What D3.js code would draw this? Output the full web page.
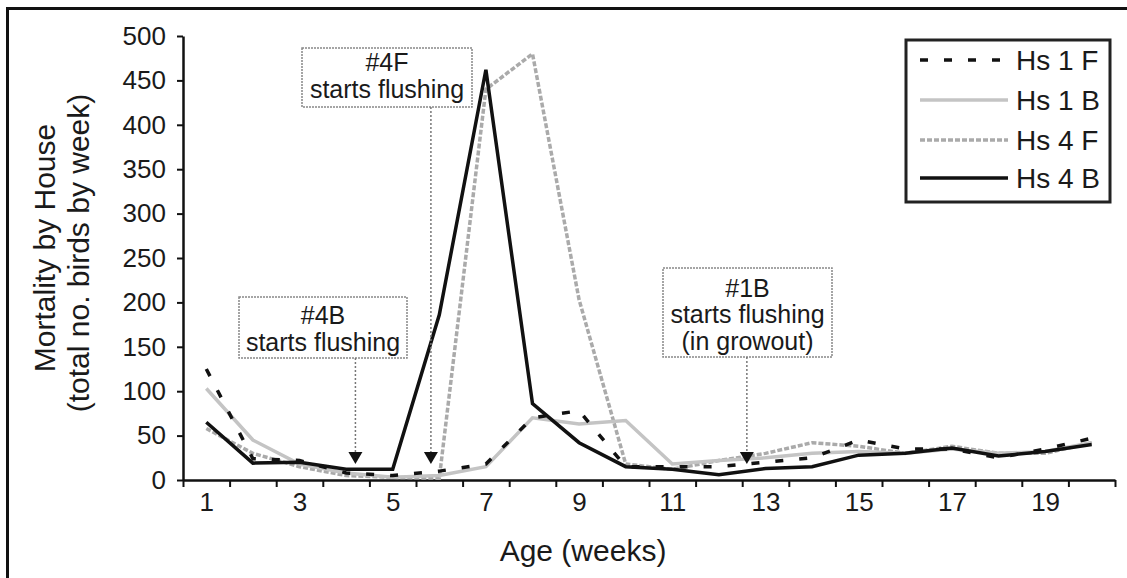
<!DOCTYPE html>
<meta charset="utf-8">
<script src="https://d3js.org/d3.v7.min.js"></script>
<style>
  body { margin: 0; background: #fff; }
  text { font-family: "Liberation Sans", Arial, sans-serif; fill: #1a1a1a; }
</style>
<div id="chart"></div>
<script>
// weeks of age (categories)
var weeks = [1, 2, 3, 4, 5, 6, 7, 8, 9, 10, 11, 12, 13, 14, 15, 16, 17, 18, 19, 20];
var weekLabels = [1, 3, 5, 7, 9, 11, 13, 15, 17, 19];
var yTicks = [0, 50, 100, 150, 200, 250, 300, 350, 400, 450, 500];

// mortality per week
var hs1F = [125, 24, 22, 8, 5, 10, 18, 70, 78, 15, 15, 15, 20, 25, 45, 35, 35, 25, 35, 47];
var hs1B = [103, 45, 18, 8, 3, 5, 15, 70, 63, 67, 18, 22, 25, 30, 32, 30, 35, 30, 32, 42];
var hs4F = [58, 30, 15, 5, 3, 2, 440, 480, 203, 18, 12, 22, 30, 42, 38, 30, 38, 30, 30, 42];
var hs4B = [65, 19, 20, 12, 12, 186, 462, 86, 42, 15, 12, 6, 13, 15, 28, 30, 36, 27, 32, 40];

var seriesNames = ["Hs 1 F", "Hs 1 B", "Hs 4 F", "Hs 4 B"];

// flushing events (week where the arrow points)
var noteLines = [["#4B", "starts flushing"], ["#4F", "starts flushing"], ["#1B", "starts flushing", "(in growout)"]];
var noteWeeks = [4.2, 5.82, 12.6];

var W = 1127, H = 578;
var svg = d3.select("#chart").append("svg")
    .attr("width", W).attr("height", H);

svg.append("rect").attr("width", W).attr("height", H).attr("fill", "#fff");

// outer frame (only left and top edges show)
svg.append("path")
    .attr("d", "M7.5," + H + "V8.5H" + W)
    .attr("fill", "none").attr("stroke", "#111").attr("stroke-width", 3);

var x = d3.scaleLinear().domain([0.5, 20.5]).range([183, 1115]);
var y = d3.scaleLinear().domain([0, 500]).range([480, 36]);

// styles per series
var styles = {
    "Hs 1 F": {color: "#111", width: 3.5, dash: "8,16"},
    "Hs 1 B": {color: "#c4c4c4", width: 3.5, dash: null},
    "Hs 4 F": {color: "#aaaaaa", width: 3.5, dash: "5,2"},
    "Hs 4 B": {color: "#111", width: 3.5, dash: null}
};
var values = {"Hs 1 F": hs1F, "Hs 1 B": hs1B, "Hs 4 F": hs4F, "Hs 4 B": hs4B};

// y axis
var yAxis = svg.append("g")
    .attr("transform", "translate(" + x(0.5) + ",0)")
    .call(d3.axisLeft(y).tickValues(yTicks).tickSize(6).tickSizeOuter(0).tickPadding(11));
yAxis.selectAll("text").style("font-size", "26px");

// x axis: ticks at category boundaries, labels on odd weeks
var bounds = weeks.map(function(w) { return w - 0.5; }).concat([20.5]);
var xAxis = svg.append("g")
    .attr("transform", "translate(0," + y(0) + ")")
    .call(d3.axisBottom(x).tickValues(bounds).tickSize(7).tickSizeOuter(0).tickFormat(""));
var xLab = svg.append("g")
    .attr("transform", "translate(0," + y(0) + ")")
    .call(d3.axisBottom(x).tickValues(weekLabels).tickSize(0).tickPadding(13));
xLab.select(".domain").remove();
xLab.selectAll("text").style("font-size", "26px");

svg.selectAll(".domain").attr("stroke", "#111").attr("stroke-width", 2.5);
svg.selectAll(".tick line").attr("stroke", "#111").attr("stroke-width", 2);

// axis titles
svg.append("text")
    .attr("transform", "translate(583,550)")
    .attr("text-anchor", "middle").attr("dy", "0.35em")
    .style("font-size", "30px")
    .text("Age (weeks)");
svg.append("text")
    .attr("transform", "translate(44,248) rotate(-90)")
    .attr("text-anchor", "middle").attr("dy", "0.35em")
    .style("font-size", "30px")
    .text("Mortality by House");
svg.append("text")
    .attr("transform", "translate(78,253) rotate(-90)")
    .attr("text-anchor", "middle").attr("dy", "0.35em")
    .style("font-size", "30px")
    .text("(total no. birds by week)");

// lines
var line = d3.line()
    .x(function(d, i) { return x(weeks[i]); })
    .y(function(d) { return y(d); });

["Hs 4 F", "Hs 1 B", "Hs 1 F", "Hs 4 B"].forEach(function(name) {
    var s = styles[name];
    svg.append("path")
        .datum(values[name])
        .attr("d", line)
        .attr("fill", "none")
        .attr("stroke", s.color)
        .attr("stroke-width", s.width)
        .attr("stroke-dasharray", s.dash)
        .attr("stroke-linejoin", "miter");
});

// annotation boxes with arrows
var boxes = [
    {x0: 239, x1: 407, y0: 297, y1: 358, ty: [315, 342]},
    {x0: 302, x1: 472, y0: 48, y1: 107, ty: [62, 89]},
    {x0: 663, x1: 832, y0: 268, y1: 357, ty: [288, 314, 341]}
];
boxes.forEach(function(b, k) {
    var g = svg.append("g");
    g.append("rect")
        .attr("x", b.x0).attr("y", b.y0)
        .attr("width", b.x1 - b.x0).attr("height", b.y1 - b.y0)
        .attr("fill", "#fff")
        .attr("stroke", "#888").attr("stroke-width", 1.5)
        .attr("stroke-dasharray", "2,1");
    noteLines[k].forEach(function(t, j) {
        g.append("text")
            .attr("x", (b.x0 + b.x1) / 2).attr("y", b.ty[j])
            .attr("text-anchor", "middle").attr("dy", "0.35em")
            .style("font-size", "25px")
            .text(t);
    });
    var ax = x(noteWeeks[k]);
    g.append("line")
        .attr("x1", ax).attr("x2", ax)
        .attr("y1", b.y1).attr("y2", 454)
        .attr("stroke", "#777").attr("stroke-width", 1.5)
        .attr("stroke-dasharray", "2,2");
    g.append("path")
        .attr("d", "M" + (ax - 7) + ",452L" + (ax + 7) + ",452L" + ax + ",464Z")
        .attr("fill", "#111");
});

// legend
var lg = svg.append("g");
lg.append("rect")
    .attr("x", 906).attr("y", 40).attr("width", 204).attr("height", 162)
    .attr("fill", "#fff").attr("stroke", "#222").attr("stroke-width", 3);
var rowY = [60, 100, 140, 178];
seriesNames.forEach(function(name, i) {
    var s = styles[name];
    lg.append("line")
        .attr("x1", 920).attr("x2", 1008)
        .attr("y1", rowY[i]).attr("y2", rowY[i])
        .attr("stroke", s.color).attr("stroke-width", s.width)
        .attr("stroke-dasharray", s.dash);
    lg.append("text")
        .attr("x", 1016).attr("y", rowY[i]).attr("dy", "0.35em")
        .style("font-size", "28px")
        .text(name);
});
</script>
